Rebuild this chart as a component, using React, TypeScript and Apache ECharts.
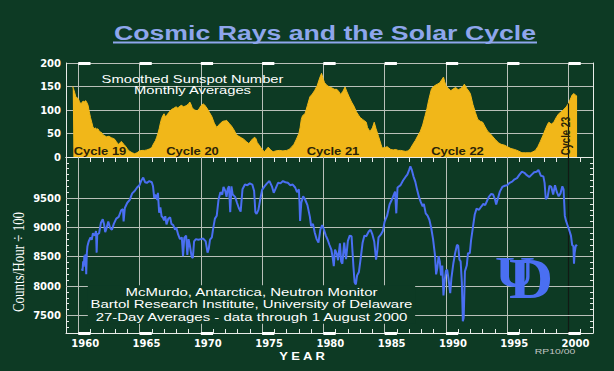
import React, { useEffect, useRef } from 'react';
import * as echarts from 'echarts';

// ---- Data ----
const sunspotYears = [
  1959.55, 1959.6, 1959.7, 1959.8, 1959.9, 1960.0, 1960.1, 1960.2, 1960.3, 1960.4, 1960.5, 1960.6, 1960.7, 1960.8, 1960.9,
  1961.0, 1961.1, 1961.2, 1961.3, 1961.4, 1961.5, 1961.6, 1961.7, 1961.8, 1961.9, 1962.0, 1962.1, 1962.3, 1962.5, 1962.7,
  1962.9, 1963.0, 1963.1, 1963.2, 1963.3, 1963.4, 1963.5, 1963.6, 1963.7, 1963.9, 1964.0, 1964.2, 1964.4, 1964.6, 1964.8,
  1965.0, 1965.2, 1965.4, 1965.6, 1965.8, 1966.0, 1966.1, 1966.3, 1966.4, 1966.5, 1966.6, 1966.7, 1966.8, 1966.9, 1967.0,
  1967.1, 1967.2, 1967.4, 1967.6, 1967.75, 1968.0, 1968.1, 1968.2, 1968.4, 1968.6, 1968.8, 1969.0, 1969.1, 1969.2, 1969.3,
  1969.5, 1969.7, 1969.9, 1970.0, 1970.2, 1970.3, 1970.5, 1970.7, 1970.9, 1971.1, 1971.3, 1971.4, 1971.6, 1971.8, 1972.0,
  1972.1, 1972.3, 1972.5, 1972.7, 1972.9, 1973.1, 1973.3, 1973.5, 1973.7, 1973.9, 1974.0, 1974.2, 1974.4, 1974.5, 1974.6,
  1974.8, 1975.0, 1975.2, 1975.4, 1975.5, 1975.7, 1975.9, 1976.1, 1976.4, 1976.7, 1977.0, 1977.2, 1977.4, 1977.6, 1977.8,
  1978.0, 1978.1, 1978.2, 1978.3, 1978.5, 1978.7, 1978.9, 1979.1, 1979.3, 1979.5, 1979.7, 1979.85, 1980.0, 1980.1, 1980.3,
  1980.5, 1980.7, 1980.9, 1981.1, 1981.3, 1981.4, 1981.6, 1981.77, 1981.9, 1982.1, 1982.3, 1982.5, 1982.7, 1982.9, 1983.0,
  1983.2, 1983.5, 1983.6, 1983.8, 1984.0, 1984.15, 1984.3, 1984.5, 1984.7, 1984.8, 1985.0, 1985.2, 1985.3, 1985.5, 1985.7,
  1985.9, 1986.1, 1986.3, 1986.5, 1986.7, 1986.9, 1987.1, 1987.3, 1987.5, 1987.7, 1987.9, 1988.1, 1988.3, 1988.45, 1988.6,
  1988.8, 1988.9, 1989.1, 1989.3, 1989.5, 1989.65, 1989.8, 1989.9, 1990.0, 1990.2, 1990.4, 1990.6, 1990.8, 1991.0, 1991.2,
  1991.4, 1991.5, 1991.7, 1991.9, 1992.0, 1992.2, 1992.4, 1992.6, 1992.8, 1993.0, 1993.2, 1993.4, 1993.6, 1993.8, 1994.0,
  1994.3, 1994.5, 1994.8, 1995.0, 1995.3, 1995.6, 1995.9, 1996.2, 1996.5, 1996.9, 1997.1, 1997.3, 1997.5, 1997.7, 1997.9,
  1998.1, 1998.3, 1998.4, 1998.6, 1998.8, 1999.0, 1999.2, 1999.4, 1999.6, 1999.8, 2000.0, 2000.2, 2000.3, 2000.45, 2000.6,
  2000.7,
];
const sunspotValues = [
  150, 146, 138, 128, 126, 124, 118, 113, 116, 119, 117, 120, 116, 110, 96,
  84, 74, 64, 60, 62, 59, 60, 56, 53, 52, 48, 46, 43, 44, 41,
  39, 37, 33, 29, 27, 30, 33, 31, 27, 22, 17, 12, 9, 7, 9,
  13, 14, 14, 15, 17, 20, 26, 35, 42, 50, 60, 72, 82, 88, 92,
  86, 88, 95, 101, 103, 107, 104, 106, 110, 107, 109, 113, 117, 112, 104,
  100, 98, 104, 109, 113, 111, 104, 95, 86, 72, 63, 66, 72, 76, 77,
  78, 72, 66, 58, 48, 44, 41, 38, 33, 29, 31, 38, 42, 39, 31,
  24, 16, 11, 18, 21, 15, 11, 13, 14, 13, 14, 16, 21, 27, 38,
  50, 62, 80, 88, 92, 110, 128, 134, 142, 152, 168, 178, 165, 158, 152,
  149, 147, 144, 144, 138, 133, 140, 149, 140, 128, 117, 108, 96, 88, 84,
  80, 74, 63, 54, 62, 74, 60, 44, 27, 19, 20, 22, 20, 16, 15,
  16, 14, 14, 13, 12, 13, 18, 27, 35, 45, 54, 68, 88, 103, 122,
  143, 148, 152, 155, 158, 164, 170, 160, 152, 146, 141, 145, 148, 143, 146,
  150, 155, 146, 139, 134, 112, 95, 80, 76, 74, 64, 55, 50, 44, 38,
  30, 27, 25, 22, 18, 16, 13, 9, 9, 9, 11, 14, 22, 33, 45,
  58, 70, 74, 70, 74, 84, 92, 96, 101, 106, 114, 126, 132, 135, 131,
  129,
];

const cosmicYears = [
  1960.3, 1960.35, 1960.4, 1960.45, 1960.5, 1960.55, 1960.6, 1960.65, 1960.7, 1960.75, 1960.85, 1961.0, 1961.1, 1961.2, 1961.35,
  1961.45, 1961.5, 1961.55, 1961.7, 1961.85, 1962.0, 1962.1, 1962.2, 1962.3, 1962.45, 1962.6, 1962.75, 1962.9, 1963.1, 1963.3,
  1963.5, 1963.65, 1963.7, 1963.8, 1964.0, 1964.2, 1964.4, 1964.6, 1964.8, 1965.0, 1965.15, 1965.3, 1965.45, 1965.6, 1965.8,
  1966.0, 1966.1, 1966.2, 1966.3, 1966.45, 1966.5, 1966.6, 1966.7, 1966.8, 1966.9, 1967.0, 1967.1, 1967.2, 1967.35, 1967.5,
  1967.6, 1967.75, 1967.9, 1968.0, 1968.15, 1968.3, 1968.45, 1968.55, 1968.65, 1968.8, 1968.9, 1969.0, 1969.1, 1969.25, 1969.35,
  1969.45, 1969.6, 1969.8, 1970.0, 1970.2, 1970.4, 1970.55, 1970.65, 1970.75, 1970.9, 1971.0, 1971.15, 1971.3, 1971.45, 1971.6,
  1971.75, 1971.85, 1972.0, 1972.1, 1972.2, 1972.3, 1972.4, 1972.5, 1972.6, 1972.8, 1972.95, 1973.1, 1973.25, 1973.4, 1973.6,
  1973.8, 1974.0, 1974.2, 1974.35, 1974.45, 1974.55, 1974.7, 1974.85, 1975.0, 1975.2, 1975.4, 1975.6, 1975.8, 1975.95, 1976.1,
  1976.3, 1976.5, 1976.7, 1976.9, 1977.1, 1977.3, 1977.5, 1977.7, 1977.85, 1978.0, 1978.05, 1978.1, 1978.2, 1978.35, 1978.5,
  1978.7, 1978.9, 1979.0, 1979.15, 1979.3, 1979.45, 1979.6, 1979.75, 1979.9, 1980.05, 1980.2, 1980.35, 1980.5, 1980.65, 1980.75,
  1980.85, 1980.95, 1981.1, 1981.2, 1981.35, 1981.45, 1981.55, 1981.7, 1981.85, 1982.0, 1982.15, 1982.3, 1982.45, 1982.55, 1982.65,
  1982.75, 1982.9, 1983.05, 1983.2, 1983.35, 1983.5, 1983.7, 1983.85, 1984.0, 1984.15, 1984.3, 1984.4, 1984.5, 1984.7, 1984.85,
  1985.0, 1985.2, 1985.4, 1985.6, 1985.75, 1985.85, 1985.95, 1986.05, 1986.3, 1986.5, 1986.7, 1986.85, 1987.0, 1987.1, 1987.2,
  1987.35, 1987.5, 1987.65, 1987.8, 1987.95, 1988.1, 1988.2, 1988.35, 1988.5, 1988.65, 1988.8, 1988.95, 1989.1, 1989.2, 1989.3,
  1989.4, 1989.5, 1989.6, 1989.7, 1989.8, 1989.9, 1990.0, 1990.1, 1990.2, 1990.35, 1990.45, 1990.6, 1990.75, 1990.9, 1991.0,
  1991.1, 1991.2, 1991.3, 1991.38, 1991.45, 1991.55, 1991.7, 1991.8, 1991.95, 1992.05, 1992.2, 1992.35, 1992.5, 1992.7, 1992.9,
  1993.05, 1993.2, 1993.35, 1993.5, 1993.7, 1993.85, 1994.0, 1994.1, 1994.25, 1994.4, 1994.6, 1994.8, 1995.0, 1995.2, 1995.4,
  1995.6, 1995.8, 1996.0, 1996.2, 1996.4, 1996.6, 1996.8, 1997.0, 1997.2, 1997.4, 1997.55, 1997.75, 1997.95, 1998.05, 1998.15,
  1998.3, 1998.45, 1998.6, 1998.75, 1998.9, 1999.05, 1999.2, 1999.35, 1999.5, 1999.6, 1999.7, 1999.8, 1999.95, 2000.05, 2000.2,
  2000.3, 2000.4, 2000.45, 2000.5, 2000.6, 2000.7,
];
const cosmicCounts = [
  8300, 8260, 8420, 8330, 8520, 8460, 8540, 8200, 8560, 8680, 8760, 8830, 8790, 8900, 8860,
  8940, 8570, 8880, 8900, 9080, 9140, 9060, 8920, 8980, 9100, 8990, 8960, 9060, 9150, 9180,
  9290, 9310, 9100, 9330, 9420, 9470, 9580, 9620, 9680, 9720, 9800, 9850, 9770, 9760, 9790,
  9770, 9700, 9500, 9560, 9470, 9590, 9250, 9340, 9190, 9170, 9120, 9190, 9050, 9150, 9170,
  9060, 9040, 8960, 9000, 8880, 8800, 8830, 8510, 8820, 8860, 8530, 8800, 8700, 8500, 8480,
  8760, 8800, 8790, 8800, 8810, 8760, 8570, 8640, 8790, 8830, 8970, 9150, 9200, 9480, 9600,
  9560, 9690, 9620, 9520, 9660, 9700, 9260, 9700, 9560, 9520, 9420, 9330, 9270, 9650, 9730,
  9720, 9750, 9730, 9620, 9260, 9230, 9300, 9480, 9640, 9700, 9750, 9790, 9700, 9590, 9660,
  9760, 9750, 9790, 9770, 9760, 9720, 9730, 9680, 9600, 9650, 9440, 9110, 9420, 9530, 9480,
  9380, 9180, 9020, 9060, 8910, 8800, 8740, 8960, 9040, 8960, 8860, 8790, 8700, 8620, 8500,
  8340, 8620, 8550, 8440, 8730, 8420, 8380, 8740, 8460, 8770, 8860, 8850, 8340, 8060, 8030,
  8180, 8240, 8480, 8740, 8860, 8850, 8930, 8960, 8880, 8760, 8450, 8600, 8830, 8880, 8940,
  9100, 9200, 9390, 9480, 9560, 9610, 9240, 9680, 9720, 9800, 9860, 9900, 9980, 10040, 9990,
  9870, 9780, 9640, 9520, 9430, 9360, 9400, 9240, 9200, 9130, 8990, 8800, 8540, 8200, 8310,
  8510, 8420, 8180, 8350, 7840, 8100, 8260, 8280, 8140, 7880, 8140, 8380, 8560, 8700, 8690,
  8450, 8420, 8060, 7400, 7460, 8250, 8350, 8560, 8560, 8780, 9000, 9220, 9320, 9300, 9360,
  9400, 9380, 9450, 9520, 9570, 9560, 9480, 9390, 9500, 9610, 9690, 9710, 9720, 9760, 9780,
  9820, 9840, 9900, 9950, 9930, 9890, 9860, 9900, 9940, 9950, 9980, 9880, 9870, 9760, 9480,
  9520, 9710, 9690, 9560, 9720, 9600, 9530, 9580, 9700, 9650, 9200, 9110, 9020, 8960, 8860,
  8700, 8680, 8380, 8560, 8700, 8680,
];

const majorYears = [1960, 1965, 1970, 1975, 1980, 1985, 1990, 1995, 2000];
const countGridLines = [7500, 8000, 8500, 9000, 9500];

// ---- Styles ----
const BG = '#0d3a24';
const GOLD = '#f1b719';
const BLUE = '#4a6ff2';
const TITLE = '#8ea6ec';
const AXIS = '#e8ece8';
const GRID = '#b9c0b9';
const DARKLINE = '#111a14';
const SANS = '"Liberation Sans", Arial, sans-serif';
const S = 1.3;

const xBase = { type: 'value', min: 1959, max: 2002, interval: 1 };

function buildOption() {
  const sunspot = sunspotYears.map((y, i) => [y, sunspotValues[i]]);
  const cosmic = cosmicYears.map((y, i) => [y, cosmicCounts[i]]);
  const lastYear = majorYears[majorYears.length - 1];
  const idx2000 = sunspotYears.indexOf(lastYear);
  const sunspotAt2000 = idx2000 >= 0 ? sunspotValues[idx2000] : 0;

  const axisTickStyle = { color: AXIS, width: 1 };

  return {
    animation: false,
    backgroundColor: BG,
    grid: [
      { left: 66, right: 21, top: 63, height: 94, show: false },
      { left: 66, right: 21, top: 157, height: 176, show: false },
    ],
    xAxis: [
      {
        ...xBase, gridIndex: 0, position: 'bottom',
        axisLine: { show: true, lineStyle: { color: AXIS, width: 1 } },
        axisTick: { show: true, inside: false, length: 5, lineStyle: axisTickStyle },
        axisLabel: { show: false }, splitLine: { show: false },
      },
      {
        ...xBase, gridIndex: 0, position: 'top',
        axisLine: { show: true, lineStyle: { color: AXIS, width: 1 } },
        axisTick: { show: true, inside: true, length: 3, lineStyle: axisTickStyle },
        axisLabel: { show: false }, splitLine: { show: false },
      },
      {
        ...xBase, gridIndex: 1, position: 'bottom',
        axisLine: { show: true, lineStyle: { color: AXIS, width: 1 } },
        axisTick: { show: true, inside: true, length: 4, lineStyle: axisTickStyle },
        axisLabel: {
          show: true, color: '#ffffff', fontFamily: '"DejaVu Sans", sans-serif', fontWeight: 'bold', fontSize: 10,
          margin: 5, padding: [0, 0, 0, 14],
          formatter: (v: number) => (majorYears.indexOf(Math.round(v)) >= 0 && Math.abs(v - Math.round(v)) < 1e-6 ? String(Math.round(v)) : ''),
        },
        splitLine: { show: false },
      },
    ],
    yAxis: [
      {
        gridIndex: 0, type: 'value', min: 0, max: 200, interval: 50, position: 'left',
        axisLine: { show: true, lineStyle: { color: AXIS, width: 1 } },
        axisTick: { show: false },
        axisLabel: { show: true, color: '#ffffff', fontFamily: '"DejaVu Sans", sans-serif', fontWeight: 'bold', fontSize: 10, margin: 5 },
        splitLine: { show: true, lineStyle: { color: GRID, width: 1 } },
      },
      {
        gridIndex: 0, type: 'value', min: 0, max: 200, interval: 50, position: 'right',
        axisLine: { show: true, lineStyle: { color: AXIS, width: 1 } },
        axisTick: { show: false }, axisLabel: { show: false }, splitLine: { show: false },
      },
      {
        gridIndex: 1, type: 'value', min: 7200, max: 10200, interval: 100, position: 'left',
        axisLine: { show: true, lineStyle: { color: AXIS, width: 1 } },
        axisTick: { show: true, inside: true, length: 3, lineStyle: axisTickStyle },
        axisLabel: {
          show: true, color: '#ffffff', fontFamily: '"DejaVu Sans", sans-serif', fontWeight: 'bold', fontSize: 10, margin: 5,
          formatter: (v: number) => (countGridLines.indexOf(Math.round(v)) >= 0 ? String(Math.round(v)) : ''),
        },
        splitLine: { show: false },
      },
      {
        gridIndex: 1, type: 'value', min: 7200, max: 10200, interval: 100, position: 'right',
        axisLine: { show: true, lineStyle: { color: AXIS, width: 1 } },
        axisTick: { show: true, inside: true, length: 3, lineStyle: axisTickStyle },
        axisLabel: { show: false }, splitLine: { show: false },
      },
    ],
    series: [
      // top panel grid lines (behind the gold area)
      {
        type: 'line', xAxisIndex: 0, yAxisIndex: 0, data: [], z: 1, silent: true,
        markLine: {
          silent: true, z: 1, symbol: ['none', 'none'], label: { show: false },
          lineStyle: { color: GRID, width: 1, type: 'solid' },
          data: majorYears.map((y) => ({ xAxis: y })),
        },
      },
      {
        name: 'Sunspot', type: 'line', xAxisIndex: 0, yAxisIndex: 0, data: sunspot, z: 2,
        symbol: 'none', smooth: false,
        lineStyle: { color: GOLD, width: 1 },
        areaStyle: { color: GOLD, opacity: 1 },
      },
      // top panel white bars on the top border, dark 2000 line through the gold
      {
        type: 'line', xAxisIndex: 0, yAxisIndex: 0, data: [], z: 10, silent: true,
        markLine: {
          silent: true, z: 10, symbol: ['none', 'none'], label: { show: false },
          lineStyle: { color: '#ffffff', width: 3, type: 'solid' },
          data: [
            ...majorYears.map((y) => [{ coord: [y, 200] }, { coord: [y + 1, 200] }]),
            [
              { coord: [lastYear, 0], lineStyle: { color: DARKLINE, width: 1.2 } },
              { coord: [lastYear, sunspotAt2000] },
            ],
          ],
        },
      },
      // bottom panel grid lines
      {
        type: 'line', xAxisIndex: 2, yAxisIndex: 2, data: [], z: 1, silent: true,
        markLine: {
          silent: true, z: 1, symbol: ['none', 'none'], label: { show: false },
          lineStyle: { color: GRID, width: 1, type: 'solid' },
          data: [
            ...majorYears.map((y) => (y === lastYear ? { xAxis: y, lineStyle: { color: DARKLINE, width: 1.2 } } : { xAxis: y })),
            ...countGridLines.map((c) => ({ yAxis: c })),
          ],
        },
      },
      {
        name: 'Neutron counts', type: 'line', xAxisIndex: 2, yAxisIndex: 2, data: cosmic, z: 3,
        symbol: 'none', smooth: false,
        lineStyle: { color: BLUE, width: 2 },
      },
      // bottom panel white bars on the x axis
      {
        type: 'line', xAxisIndex: 2, yAxisIndex: 2, data: [], z: 10, silent: true,
        markLine: {
          silent: true, z: 10, symbol: ['none', 'none'], label: { show: false },
          lineStyle: { color: '#ffffff', width: 3, type: 'solid' },
          data: majorYears.map((y) => [{ coord: [y, 7200] }, { coord: [y + 1, 7200] }]),
        },
      },
    ],
    graphic: [
      {
        type: 'text', x: 325, y: 33, z: 20, scaleX: S,
        style: { text: 'Cosmic Rays and the Solar Cycle', fill: TITLE, font: `bold 20.5px ${SANS}`, align: 'center', verticalAlign: 'middle' },
      },
      { type: 'line', z: 20, shape: { x1: 113, y1: 42.5, x2: 537, y2: 42.5 }, style: { stroke: TITLE, lineWidth: 2 } },
      {
        type: 'text', x: 192.5, y: 84.5, z: 20, scaleX: 1.25,
        style: { text: 'Smoothed Sunspot Number\nMonthly Averages', fill: '#ffffff', font: `11.8px ${SANS}`, lineHeight: 11.5, align: 'center', verticalAlign: 'middle' },
      },
      ...[
        ['Cycle 19', 100],
        ['Cycle 20', 192.5],
        ['Cycle 21', 333],
        ['Cycle 22', 457.5],
      ].map(([t, x]) => ({
        type: 'text', x: x as number, y: 151.5, z: 20, scaleX: S,
        style: { text: t as string, fill: '#2a2308', font: `bold 10px ${SANS}`, align: 'center', verticalAlign: 'middle' },
      })),
      {
        type: 'text', x: 566, y: 136, z: 20, rotation: Math.PI / 2, scaleY: S,
        style: { text: 'Cycle 23', fill: '#2a2308', font: `bold 9.5px ${SANS}`, align: 'center', verticalAlign: 'middle' },
      },
      {
        type: 'text', x: 251.5, y: 304.5, z: 2, scaleX: 1.27,
        style: {
          text: 'McMurdo, Antarctica, Neutron Monitor\nBartol Research Institute, University of Delaware\n27-Day Averages - data through 1 August 2000',
          fill: '#ffffff', font: `11.8px ${SANS}`, lineHeight: 12.2, align: 'center', verticalAlign: 'middle',
          backgroundColor: BG, padding: [1, 2, 1, 2],
        },
      },
      {
        type: 'text', x: 18, y: 262, z: 20, rotation: Math.PI / 2, scaleY: 1.25,
        style: { text: 'Counts/Hour \u00f7 100', fill: '#ffffff', font: '13px "Liberation Serif", "Times New Roman", serif', align: 'center', verticalAlign: 'middle' },
      },
      {
        type: 'text', x: 302, y: 356.5, z: 20, scaleX: S,
        style: { text: 'Y E A R', fill: '#ffffff', font: `bold 10px ${SANS}`, align: 'center', verticalAlign: 'middle' },
      },
      {
        type: 'text', x: 555, y: 351, z: 20, scaleX: S,
        style: { text: 'RP10/00', fill: '#c4c8c4', font: `8px ${SANS}`, align: 'center', verticalAlign: 'middle' },
      },
      {
        type: 'text', x: 531, y: 279, z: 20, scaleX: 1.07,
        style: { text: 'D', fill: BLUE, font: 'bold 57px "Liberation Serif", "Times New Roman", serif', align: 'center', verticalAlign: 'middle' },
      },
      {
        type: 'text', x: 515, y: 272.5, z: 21, scaleX: 1.26,
        style: { text: 'U', fill: BLUE, font: 'bold 44px "Liberation Serif", "Times New Roman", serif', align: 'center', verticalAlign: 'middle' },
      },
    ],
  };
}

export default function App() {
  const ref = useRef<HTMLDivElement>(null);
  useEffect(() => {
    if (!ref.current) return;
    const chart = echarts.init(ref.current, null, { renderer: 'svg' });
    chart.setOption(buildOption() as any);
    return () => chart.dispose();
  }, []);
  return <div ref={ref} style={{ position: 'fixed', left: 0, top: 0, width: 614, height: 371 }} />;
}
